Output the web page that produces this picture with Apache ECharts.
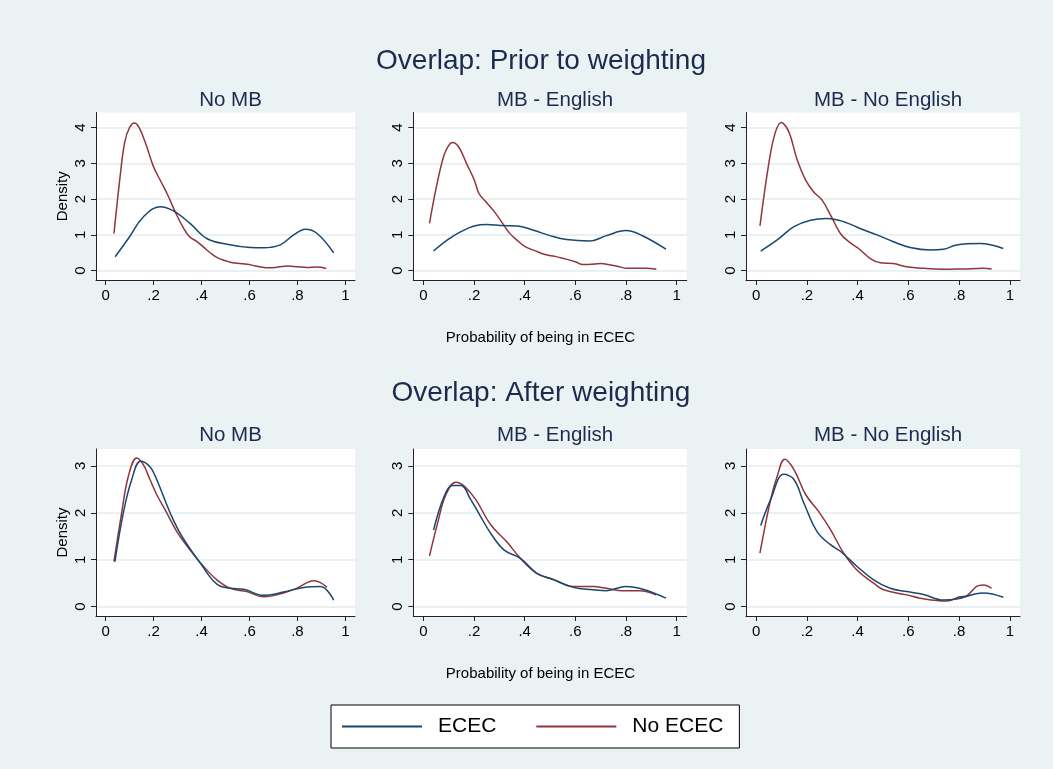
<!DOCTYPE html>
<html>
<head>
<meta charset="utf-8">
<script src="https://cdn.jsdelivr.net/npm/echarts@6/dist/echarts.min.js"></script>
<style>
  html, body { margin: 0; padding: 0; background: #EAF2F3; }
  #chart { width: 1053px; height: 769px; }
</style>
</head>
<body>
<div id="chart"></div>
<script>
// ---- tick labels / text ----
const xTicks = [0, 0.2, 0.4, 0.6, 0.8, 1];
const xTickLabels = ['0', '.2', '.4', '.6', '.8', '1'];
const yTicksPrior = [0, 1, 2, 3, 4];
const yTicksAfter = [0, 1, 2, 3];
const rowTitles = ['Overlap: Prior to weighting', 'Overlap: After weighting'];
const panelTitles = ['No MB', 'MB - English', 'MB - No English'];
const seriesNames = ['ECEC', 'No ECEC'];
const xTitle = 'Probability of being in ECEC';
const yTitle = 'Density';

// ---- data: [probability, density] ----
const priorNoMB_ECEC = [[.04,.39],[.10,.95],[.157,1.5],[.227,1.79],[.283,1.67],[.352,1.32],[.422,.90],[.506,.74],[.603,.65],[.659,.64],[.728,.72],[.784,1.0],[.833,1.16],[.882,1.04],[.951,.5]];
const priorNoMB_NoECEC = [[.035,1.04],[.06,2.6],[.08,3.6],[.10,4.0],[.12,4.13],[.14,4.0],[.17,3.5],[.20,2.9],[.23,2.5],[.26,2.1],[.29,1.65],[.32,1.25],[.35,.95],[.38,.82],[.41,.65],[.44,.48],[.47,.35],[.50,.28],[.53,.22],[.56,.2],[.59,.18],[.62,.14],[.65,.1],[.68,.08],[.72,.1],[.76,.13],[.80,.11],[.84,.09],[.88,.1],[.92,.06]];
const priorEng_ECEC = [[.04,.55],[.095,.86],[.148,1.09],[.20,1.25],[.252,1.29],[.305,1.26],[.37,1.25],[.435,1.13],[.50,.98],[.566,.87],[.657,.83],[.723,.98],[.80,1.12],[.867,.97],[.958,.6]];
const priorEng_NoECEC = [[.024,1.32],[.05,2.3],[.08,3.2],[.10,3.5],[.115,3.58],[.14,3.45],[.17,3.0],[.20,2.55],[.22,2.15],[.25,1.9],[.28,1.65],[.31,1.35],[.34,1.05],[.37,.85],[.40,.68],[.44,.56],[.48,.45],[.52,.4],[.56,.33],[.60,.25],[.63,.17],[.66,.18],[.70,.2],[.74,.16],[.78,.1],[.80,.07],[.85,.07],[.88,.07],[.92,.04]];
const priorNoEng_ECEC = [[.018,.55],[.083,.86],[.149,1.23],[.214,1.41],[.28,1.46],[.345,1.37],[.41,1.18],[.476,1.0],[.541,.81],[.607,.65],[.686,.58],[.738,.6],[.79,.72],[.882,.76],[.974,.62]];
const priorNoEng_NoECEC = [[.015,1.25],[.05,3.0],[.075,3.85],[.099,4.14],[.12,4.0],[.136,3.74],[.162,3.09],[.195,2.53],[.227,2.2],[.26,1.97],[.30,1.46],[.332,1.04],[.365,.81],[.404,.62],[.45,.34],[.49,.22],[.54,.2],[.594,.11],[.66,.065],[.738,.04],[.816,.05],[.895,.065],[.928,.05]];

const afterNoMB_ECEC = [[.039,.96],[.074,2.0],[.109,2.71],[.146,3.1],[.185,2.98],[.213,2.71],[.269,2.0],[.318,1.5],[.40,.89],[.464,.48],[.52,.39],[.575,.37],[.659,.24],[.742,.31],[.826,.41],[.896,.43],[.951,.14]];
const afterNoMB_NoECEC = [[.035,.96],[.067,2.0],[.095,2.78],[.13,3.17],[.157,3.03],[.185,2.71],[.213,2.39],[.255,2.0],[.297,1.6],[.352,1.21],[.408,.86],[.464,.57],[.52,.39],[.589,.32],[.659,.21],[.742,.29],[.80,.4],[.868,.55],[.896,.51],[.923,.41]];
const afterEng_ECEC = [[.04,1.63],[.082,2.35],[.115,2.58],[.148,2.58],[.187,2.28],[.226,1.92],[.265,1.57],[.318,1.21],[.383,1.03],[.448,.71],[.514,.57],[.592,.41],[.67,.36],[.723,.34],[.80,.43],[.867,.37],[.958,.18]];
const afterEng_NoECEC = [[.024,1.08],[.056,1.78],[.089,2.39],[.128,2.65],[.161,2.57],[.207,2.28],[.265,1.75],[.331,1.37],[.383,1.03],[.448,.71],[.514,.58],[.592,.43],[.67,.43],[.723,.39],[.788,.34],[.854,.34],[.919,.25]];
const afterNoEng_ECEC = [[.018,1.73],[.057,2.28],[.109,2.82],[.149,2.71],[.188,2.21],[.24,1.6],[.293,1.32],[.332,1.18],[.397,.86],[.463,.57],[.528,.39],[.594,.32],[.659,.26],[.738,.14],[.79,.16],[.895,.29],[.974,.2]];
const afterNoEng_NoECEC = [[.015,1.14],[.057,2.28],[.083,2.78],[.113,3.14],[.149,2.92],[.195,2.39],[.246,2.03],[.293,1.64],[.345,1.14],[.397,.78],[.463,.5],[.502,.36],[.594,.25],[.646,.18],[.751,.12],[.803,.21],[.829,.23],[.869,.43],[.895,.46],[.928,.39]];

const panelData = [
  [priorNoMB_ECEC, priorNoMB_NoECEC],
  [priorEng_ECEC, priorEng_NoECEC],
  [priorNoEng_ECEC, priorNoEng_NoECEC],
  [afterNoMB_ECEC, afterNoMB_NoECEC],
  [afterEng_ECEC, afterEng_NoECEC],
  [afterNoEng_ECEC, afterNoEng_NoECEC]
];

// ---- layout / style ----
const FONT = 'Liberation Sans, Arial, Helvetica, sans-serif';
const colors = ['#1A476F', '#90353B'];
const titleColor = '#1C2B4D';
const colLeft = [96, 413.3, 746];
const colWidth = [259, 273.4, 274];
const rowTop = [112.5, 449];
const rowHeight = [167.5, 167];
const yRange = [[-0.26, 4.42], [-0.2, 3.36]];
const yTickSets = [yTicksPrior, yTicksAfter];

const grids = [], xAxes = [], yAxes = [], series = [];
for (let r = 0; r < 2; r++) {
  for (let c = 0; c < 3; c++) {
    const i = r * 3 + c;
    grids.push({
      left: colLeft[c], top: rowTop[r], width: colWidth[c], height: rowHeight[r],
      show: true, backgroundColor: '#ffffff', borderWidth: 0
    });
    xAxes.push({
      type: 'value', gridIndex: i, min: -0.04, max: 1.04,
      axisLine: { show: true, onZero: false, lineStyle: { color: '#222', width: 1 } },
      axisTick: { show: true, customValues: xTicks, length: 5, lineStyle: { color: '#222' } },
      axisLabel: {
        customValues: xTicks, margin: 8, fontSize: 15, color: '#000', fontFamily: FONT,
        formatter: v => { const k = xTicks.findIndex(t => Math.abs(t - v) < 1e-6); return k >= 0 ? xTickLabels[k] : ''; }
      },
      splitLine: { show: false }
    });
    yAxes.push({
      type: 'value', gridIndex: i, min: yRange[r][0], max: yRange[r][1],
      name: c === 0 ? yTitle : '', nameLocation: 'middle', nameGap: 26,
      nameTextStyle: { fontSize: 15, color: '#000', fontFamily: FONT },
      axisLine: { show: true, onZero: false, lineStyle: { color: '#222', width: 1 } },
      axisTick: { show: true, customValues: yTickSets[r], length: 5, lineStyle: { color: '#222' } },
      axisLabel: {
        customValues: yTickSets[r], rotate: 90, margin: 8, fontSize: 15, color: '#000', fontFamily: FONT,
        formatter: v => String(Math.round(v))
      },
      splitLine: { show: true, lineStyle: { color: '#E3EDF0', width: 1.5 } }
    });
    for (let s = 0; s < 2; s++) {
      series.push({
        name: seriesNames[s], type: 'line', xAxisIndex: i, yAxisIndex: i,
        data: panelData[i][s], symbol: 'none', smooth: 0.4,
        lineStyle: { color: colors[s], width: 1.5 }, itemStyle: { color: colors[s] },
        z: 3 + (1 - s)
      });
    }
  }
}

const titles = [
  { text: rowTitles[0], left: 536, top: 42, textAlign: 'center', textStyle: { fontSize: 28, fontWeight: 'normal', color: titleColor, fontFamily: FONT } },
  { text: rowTitles[1], left: 536, top: 374, textAlign: 'center', textStyle: { fontSize: 28, fontWeight: 'normal', color: titleColor, fontFamily: FONT } },
  { text: xTitle, left: 535.5, top: 325, textAlign: 'center', textStyle: { fontSize: 15, fontWeight: 'normal', color: '#000', fontFamily: FONT } },
  { text: xTitle, left: 535.5, top: 661, textAlign: 'center', textStyle: { fontSize: 15, fontWeight: 'normal', color: '#000', fontFamily: FONT } }
];
for (let r = 0; r < 2; r++) {
  for (let c = 0; c < 3; c++) {
    titles.push({
      text: panelTitles[c], left: colLeft[c] + colWidth[c] / 2, top: (r === 0 ? 98 : 433) - 13,
      textAlign: 'center', textStyle: { fontSize: 20.5, fontWeight: 'normal', color: titleColor, fontFamily: FONT }
    });
  }
}

const chart = echarts.init(document.getElementById('chart'), null, { renderer: 'canvas' });
chart.setOption({
  animation: false,
  backgroundColor: '#EAF2F3',
  title: titles,
  legend: {
    data: seriesNames.map(n => ({ name: n, icon: 'rect' })),
    left: 331, top: 705, orient: 'horizontal',
    itemWidth: 80, itemHeight: 2, itemGap: 40,
    padding: [11, 16, 11, 11], borderColor: '#000', borderWidth: 1, borderRadius: 0,
    backgroundColor: '#ffffff',
    textStyle: { fontSize: 21, color: '#000', fontFamily: FONT, padding: [0, 0, 0, 11], lineHeight: 21 }
  },
  grid: grids,
  xAxis: xAxes,
  yAxis: yAxes,
  series: series
});
</script>
</body>
</html>
